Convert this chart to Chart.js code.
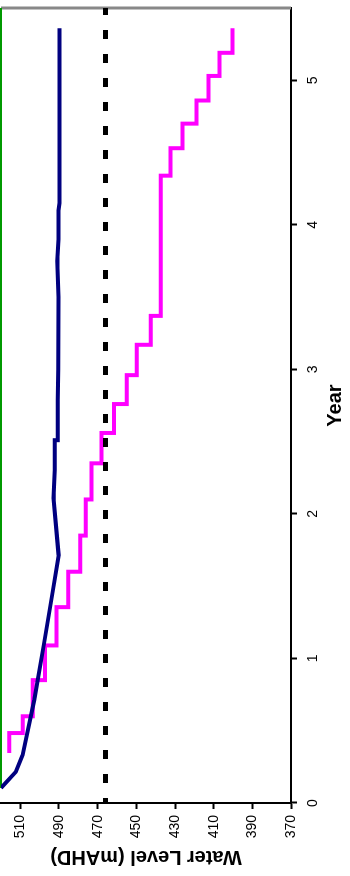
<!DOCTYPE html>
<html><head><meta charset="utf-8">
<script src="https://cdn.jsdelivr.net/npm/chart.js@4/dist/chart.umd.min.js"></script>
<style>
html,body{margin:0;padding:0;background:#fff;width:350px;height:876px;overflow:hidden;}
#wrap{position:absolute;left:0;top:0;width:876px;height:350px;transform-origin:0 0;transform:translate(0,876px) rotate(-90deg);background:#fff;}
</style></head><body>
<div id="wrap"><canvas id="c" width="876" height="350"></canvas></div>
<script>
// Tick labels
const yearTicks = [0, 1, 2, 3, 4, 5];
const levelTicks = [370, 390, 410, 430, 450, 470, 490, 510];

// Navy series (modelled water level)
const simYears  = [0.104, 0.216, 0.332, 0.712, 1.107, 1.355, 1.459, 1.715, 2.109, 2.303, 2.510, 2.510, 2.79, 3.0, 3.5, 3.75, 3.9, 4.1, 4.15, 5.36];
const simLevels = [520, 512.3, 508.8, 502.8, 497.7, 494.6, 493.3, 490.2, 492.8, 492.2, 492.2, 490.6, 490.6, 490.4, 490.3, 490.9, 490.3, 490.3, 489.8, 489.8];

// Magenta stepped series
const stepYears  = [0.346, 0.484, 0.60, 0.85, 1.09, 1.355, 1.60, 1.85, 2.10, 2.35, 2.56, 2.76, 2.96, 3.17, 3.37, 4.34, 4.53, 4.70, 4.86, 5.03, 5.19, 5.36];
const stepLevels = [515.7, 508.8, 503.6, 497.3, 491.3, 485.2, 479.0, 476.1, 473.2, 468.0, 461.5, 455.0, 449.8, 442.6, 437.4, 432.3, 426.1, 418.9, 412.7, 407.0, 400.3, 400.3];

// Dashed limit line
const limitYears  = [0, 5.5];
const limitLevels = [466, 466];

// Green top line
const topYears  = [0.104, 5.5];
const topLevels = [520, 520];

// Grey plot border on the right (year 5.5)
const edgeYears  = [5.5, 5.5];
const edgeLevels = [370, 520];

const pts = (xs, ys) => xs.map((x, i) => ({x: x, y: ys[i]}));
const FONT = "'Liberation Sans', Arial, sans-serif";

new Chart(document.getElementById('c'), {
  type: 'line',
  data: {
    datasets: [
      {data: pts(simYears, simLevels), borderColor: '#000080', borderWidth: 4, pointRadius: 0, tension: 0, order: 1},
      {data: pts(limitYears, limitLevels), borderColor: '#000000', borderWidth: 5, borderDash: [9, 15], borderDashOffset: 4, borderCapStyle: 'butt', pointRadius: 0, order: 2},
      {data: pts(stepYears, stepLevels), borderColor: '#FF00FF', borderWidth: 4, pointRadius: 0, stepped: 'before', order: 3},
      {data: pts(topYears, topLevels), borderColor: '#009900', borderWidth: 2, pointRadius: 0, clip: false, order: 4},
      {data: pts(edgeYears, edgeLevels), borderColor: '#888888', borderWidth: 3, pointRadius: 0, clip: false, order: 5}
    ]
  },
  options: {
    responsive: false,
    animation: false,
    devicePixelRatio: 1,
    layout: {padding: {top: 1, right: 8, left: 0, bottom: 0}},
    plugins: {legend: {display: false}, tooltip: {enabled: false}},
    scales: {
      x: {
        type: 'linear', position: 'bottom', min: 0, max: 5.5,
        afterBuildTicks: s => { s.ticks = yearTicks.map(v => ({value: v})); },
        afterFit: s => { s.height = 59; s.paddingLeft = 0; s.paddingRight = 0; },
        grid: {display: true, drawOnChartArea: false, drawTicks: true, tickLength: 6, tickColor: '#000', tickWidth: 2},
        border: {display: true, color: '#000', width: 2},
        ticks: {font: {family: FONT, size: 14}, color: '#000', padding: 8, maxRotation: 0, autoSkip: false},
        title: {display: true, text: 'Year', color: '#000', font: {family: FONT, size: 20, weight: 'bold'}, padding: {top: 0, bottom: 3}}
      },
      y: {
        type: 'linear', position: 'left', min: 370, max: 520,
        afterBuildTicks: s => { s.ticks = levelTicks.map(v => ({value: v})); },
        afterFit: s => { s.width = 73; s.paddingTop = 0; s.paddingBottom = 0; },
        grid: {display: true, drawOnChartArea: false, drawTicks: true, tickLength: 6, tickColor: '#000', tickWidth: 2},
        border: {display: true, color: '#000', width: 2},
        ticks: {font: {family: FONT, size: 14}, color: '#000', padding: 6, autoSkip: false},
        title: {display: true, text: 'Water Level (mAHD)', color: '#000', font: {family: FONT, size: 20, weight: 'bold'}, padding: {top: 7, bottom: 0}}
      }
    }
  }
});
</script>
</body></html>
